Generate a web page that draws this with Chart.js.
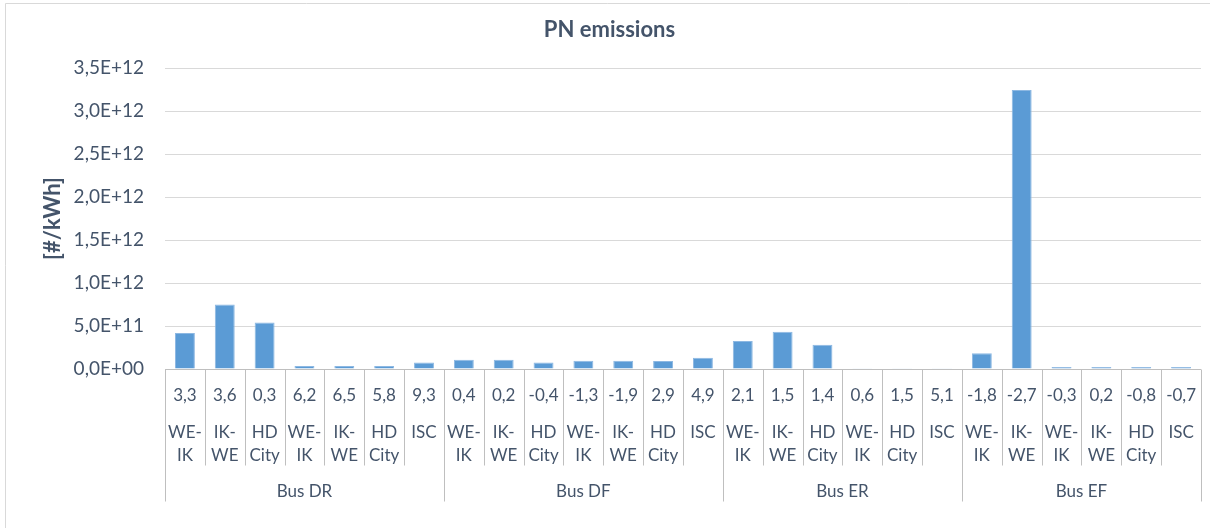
<!DOCTYPE html>
<html>
<head>
<meta charset="utf-8">
<title>PN emissions</title>
<script src="https://cdn.jsdelivr.net/npm/chart.js@4.4.1/dist/chart.umd.min.js"></script>
<style>
  html, body { margin: 0; padding: 0; background: #ffffff; }
  #wrap { width: 1210px; height: 528px; position: relative; }
</style>
</head>
<body>
<div id="wrap"><canvas id="pn"></canvas></div>
<script>
// Bus configurations and how many routes each one covers
const groups = ['Bus DR', 'Bus DF', 'Bus ER', 'Bus EF'];
const groupSizes = [7, 7, 6, 6];

// Driving route of each bar
const routes = [
  'WE-IK', 'IK-WE', 'HD City', 'WE-IK', 'IK-WE', 'HD City', 'ISC',
  'WE-IK', 'IK-WE', 'HD City', 'WE-IK', 'IK-WE', 'HD City', 'ISC',
  'WE-IK', 'IK-WE', 'HD City', 'WE-IK', 'HD City', 'ISC',
  'WE-IK', 'IK-WE', 'WE-IK', 'IK-WE', 'HD City', 'ISC'
];

// Value printed in the first label row under each bar
const rowValues = [
  3.3, 3.6, 0.3, 6.2, 6.5, 5.8, 9.3,
  0.4, 0.2, -0.4, -1.3, -1.9, 2.9, 4.9,
  2.1, 1.5, 1.4, 0.6, 1.5, 5.1,
  -1.8, -2.7, -0.3, 0.2, -0.8, -0.7
];

// Particle number emissions [#/kWh]
const pnValues = [
  0.42e12, 0.75e12, 0.54e12, 0.035e12, 0.035e12, 0.035e12, 0.075e12,
  0.107e12, 0.107e12, 0.077e12, 0.097e12, 0.097e12, 0.094e12, 0.131e12,
  0.326e12, 0.434e12, 0.283e12, 0.008e12, 0.008e12, 0.008e12,
  0.182e12, 3.245e12, 0.022e12, 0.022e12, 0.022e12, 0.022e12
];

// Y axis range
const yMin = 0;
const yMax = 3.5e12;
const yStep = 0.5e12;

const chartTitle = 'PN emissions';
const yTitle = '[#/kWh]';

const TEXT = '#44546A';
const FONT = 'Lato, "Open Sans", sans-serif';

function sci(v) {
  // 3.5e12 -> "3,5E+12", 0 -> "0,0E+00"
  const s = Number(v).toExponential(1);
  const [m, e] = s.split('e');
  const sign = e[0];
  const digits = e.slice(1).padStart(2, '0');
  return m.replace('.', ',') + 'E' + sign + digits;
}

function splitRoute(r) {
  if (r.includes('-')) { const i = r.indexOf('-'); return [r.slice(0, i + 1), r.slice(i + 1)]; }
  if (r.includes(' ')) return r.split(' ');
  return [r];
}

// Outer chart frame and the centred chart title
const framePlugin = {
  id: 'frame',
  beforeDraw(chart) {
    const ctx = chart.ctx;
    ctx.save();
    ctx.fillStyle = '#ffffff';
    ctx.fillRect(0, 0, chart.width, chart.height);
    ctx.strokeStyle = '#D9D9D9';
    ctx.lineWidth = 1;
    ctx.beginPath();
    ctx.moveTo(5.5, chart.height);
    ctx.lineTo(5.5, 3.5);
    ctx.lineTo(chart.width, 3.5);
    ctx.stroke();
    ctx.restore();
  },
  afterDraw(chart) {
    const ctx = chart.ctx;
    ctx.save();
    ctx.fillStyle = TEXT;
    ctx.font = 'bold 22px ' + FONT;
    ctx.textAlign = 'center';
    ctx.textBaseline = 'alphabetic';
    // frame spans x = 5 .. 1214, title sits at its centre
    ctx.fillText(chartTitle, 609.5, 37);
    ctx.restore();
  }
};

// Multi-level category axis: value row, route row, bus row
const multiAxisPlugin = {
  id: 'multiAxis',
  afterDraw(chart) {
    const ctx = chart.ctx;
    const x = chart.scales.x;
    const area = chart.chartArea;
    const n = routes.length;
    const step = (area.right - area.left) / n;
    const base = Math.round(area.bottom) + 0.5;

    ctx.save();
    ctx.strokeStyle = '#BFBFBF';
    ctx.lineWidth = 1;

    // axis line
    ctx.beginPath();
    ctx.moveTo(area.left, base);
    ctx.lineTo(area.right, base);
    ctx.stroke();

    // group boundaries (category indices where a new group starts)
    const starts = [];
    let acc = 0;
    groupSizes.forEach(s => { starts.push(acc); acc += s; });
    const groupEdges = new Set([...starts, n]);

    for (let i = 0; i <= n; i++) {
      const px = Math.round(x.getPixelForValue(i) - step / 2) + 0.5;
      const len = groupEdges.has(i) ? 132 : 96;
      ctx.beginPath();
      ctx.moveTo(px, base);
      ctx.lineTo(px, base + len);
      ctx.stroke();
    }

    ctx.fillStyle = TEXT;
    ctx.textAlign = 'center';
    ctx.textBaseline = 'alphabetic';
    ctx.font = '17px ' + FONT;

    // value row and route row
    for (let i = 0; i < n; i++) {
      const cx = x.getPixelForValue(i);
      ctx.fillText(rowValues[i].toFixed(1).replace('.', ','), cx, base + 31.5);
      splitRoute(routes[i]).forEach((p, k) => {
        ctx.fillText(p, cx, base + 68 + k * 23.5);
      });
    }

    // bus row
    starts.forEach((s, g) => {
      const a = x.getPixelForValue(s) - step / 2;
      const b = x.getPixelForValue(s + groupSizes[g] - 1) + step / 2;
      ctx.fillText(groups[g], (a + b) / 2, base + 127);
    });

    ctx.restore();
  }
};

new Chart(document.getElementById('pn'), {
  type: 'bar',
  data: {
    labels: routes,
    datasets: [{
      label: 'PN',
      data: pnValues,
      backgroundColor: '#5B9BD5',
      borderColor: '#8DB8E2',
      borderWidth: 1,
      barPercentage: 0.5,
      categoryPercentage: 1.0
    }]
  },
  options: {
    responsive: true,
    maintainAspectRatio: false,
    animation: false,
    devicePixelRatio: 1,
    layout: { padding: { left: 0, right: 9, top: 68, bottom: 159 } },
    plugins: {
      legend: { display: false },
      tooltip: { enabled: false },
      title: { display: false }
    },
    scales: {
      x: {
        type: 'category',
        display: false,
        offset: true
      },
      y: {
        min: yMin,
        max: yMax,
        afterFit(scale) { scale.width = 165; },
        ticks: {
          stepSize: yStep,
          padding: 21,
          color: TEXT,
          font: { family: FONT, size: 19 },
          callback: v => sci(v)
        },
        grid: { color: '#D9D9D9', lineWidth: 1, drawTicks: false },
        border: { display: false },
        title: {
          display: true,
          text: yTitle,
          color: TEXT,
          font: { family: FONT, size: 22, weight: 'bold' },
          padding: { top: 40, bottom: 0 }
        }
      }
    }
  },
  plugins: [framePlugin, multiAxisPlugin]
});
</script>
</body>
</html>
